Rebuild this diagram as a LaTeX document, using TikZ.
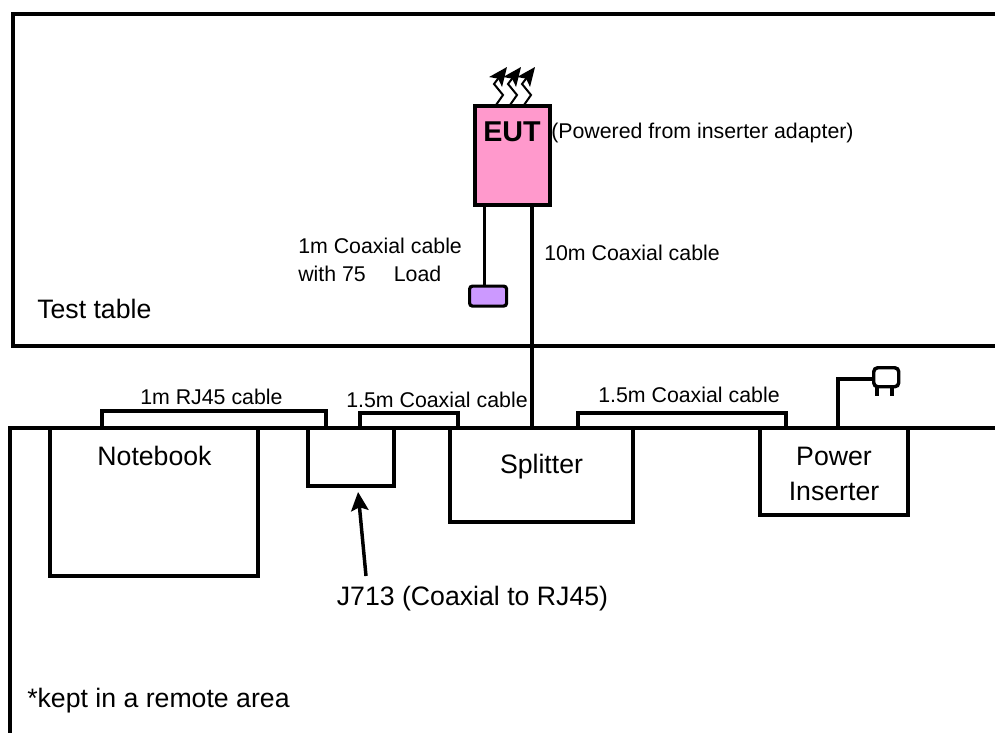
\documentclass[tikz,border=0pt]{standalone}
\usepackage{fontspec}
\setmainfont{Liberation Sans}
\usetikzlibrary{arrows.meta}
\definecolor{eutpink}{HTML}{FF99CC}
\definecolor{loadviolet}{HTML}{CC99FF}
\tikzset{
  x=0.75pt,y=-0.75pt,
  wire/.style={line width=2.4pt,line cap=rect,line join=miter},
  cablewire/.style={line width=2.5pt,line join=miter},
  unit/.style={draw,line width=2.4pt,inner sep=0pt,outer sep=0pt,anchor=north west,align=center},
  big/.style={font=\fontsize{20}{24}\selectfont,inner sep=0pt,align=center},
  small/.style={font=\fontsize{16}{23}\selectfont,inner sep=0pt,align=left},
  heat/.style={line width=1.5pt,-{Stealth[length=14pt,width=12pt,inset=3pt]}},
}
\newcommand{\unitbox}[5]{\node[unit,minimum width=#3*0.75pt,minimum height=#4*0.75pt] (#1) at (#2) {#5};}
\begin{document}
\begin{tikzpicture}
\useasboundingbox (0,0) rectangle (995,732);
% frames
\coordinate (ta) at (995,14); \coordinate (tb) at (13,14);
\coordinate (tc) at (13,346); \coordinate (td) at (995,346);
\draw[wire] (ta) -- (tb) -- (tc) -- (td);
\coordinate (ba) at (995,428); \coordinate (bb) at (10,428); \coordinate (bc) at (10,732);
\draw[wire] (ba) -- (bb) -- (bc);
% units
\node[unit,fill=eutpink,minimum width=75*0.75pt,minimum height=99*0.75pt] (eut) at (475,106) {};
\node[font=\fontsize{21.5}{25}\selectfont\bfseries,inner sep=0pt] (eutlabel) at (512,132) {EUT};
\node[draw,fill=loadviolet,line width=2.4pt,rounded corners=2.2pt,inner sep=0pt,minimum width=37*0.75pt,minimum height=20*0.75pt,anchor=north west] (load) at (468,284.5) {};
\coordinate (lc) at (484.5,205);
\draw[wire,line cap=butt] (lc) -- (lc |- load.north);
\coordinate (ec) at (532,205);
\draw[wire,line cap=butt] (ec) -- (ec |- bb);
\unitbox{notebook}{50,428}{208}{148}{}
\unitbox{j}{308,428}{86}{58}{}
\unitbox{splitter}{450,428}{183}{94}{}
\unitbox{inserter}{760,428}{148}{87}{}
\node[big] (nbl) at (154.5,456) {Notebook};
\node[big] (spl) at (541.5,467) {Splitter};
\node[big] (inl) at (834,474) {Power\\[2pt]Inserter};
% top cables
\coordinate (c1a) at (102,428); \coordinate (c1b) at (102,411); \coordinate (c1c) at (326,411); \coordinate (c1d) at (326,428);
\draw[cablewire] (c1a) -- (c1b) -- (c1c) -- (c1d);
\coordinate (c2a) at (360,428); \coordinate (c2b) at (360,413); \coordinate (c2c) at (458,413); \coordinate (c2d) at (458,428);
\draw[cablewire] (c2a) -- (c2b) -- (c2c) -- (c2d);
\coordinate (c3a) at (578,428); \coordinate (c3b) at (578,413); \coordinate (c3c) at (786,413); \coordinate (c3d) at (786,428);
\draw[cablewire] (c3a) -- (c3b) -- (c3c) -- (c3d);
% plug
\node[draw,line width=2.6pt,rounded corners=3pt,inner sep=0pt,minimum width=25*0.75pt,minimum height=19*0.75pt,anchor=north west] (plug) at (872,366) {};
\coordinate (pw) at (838,428);
\draw[wire,line cap=butt] (pw) -- (838,379) -- (plug.west |- 838,379);
\draw[line width=2.6pt] (877,385) -- (877,396);
\draw[line width=2.6pt] (892,385) -- (892,396);
% arrow
\node[big] (jl) at (472.5,599) {J713 (Coaxial to RJ45)};
\coordinate (jt) at (366,576);
\draw[line width=2.6pt,-{Stealth[length=14pt,width=13pt,inset=2.5pt]},shorten >=6*0.75pt] (jt) -- (j.south -| 357.5,0);
% heat arrows
\foreach \d/\n in {0/a,14/b,28/c}{
  \draw[heat] (496+\d,105) -- (503+\d,95) -- (494+\d,84) -- (507+\d,67);
}
% labels
\node[small,anchor=west] (l1) at (551,133) {(Powered from inserter adapter)};
\node[small,anchor=west] (l2) at (298,246) {1m Coaxial cable};
\node[small,anchor=west] (l3) at (298,274) {with 75\hspace{21pt}Load};
\node[small,anchor=west] (l4) at (544,253) {10m Coaxial cable};
\node[big,anchor=west] (l5) at (37,309) {Test table};
\node[small,anchor=west] (l6) at (140,397) {1m RJ45 cable};
\node[small,anchor=west] (l7) at (346,400) {1.5m Coaxial cable};
\node[small,anchor=west] (l8) at (598,395) {1.5m Coaxial cable};
\node[big,anchor=west] (l9) at (27,701) {*kept in a remote area};
\end{tikzpicture}
\end{document}
